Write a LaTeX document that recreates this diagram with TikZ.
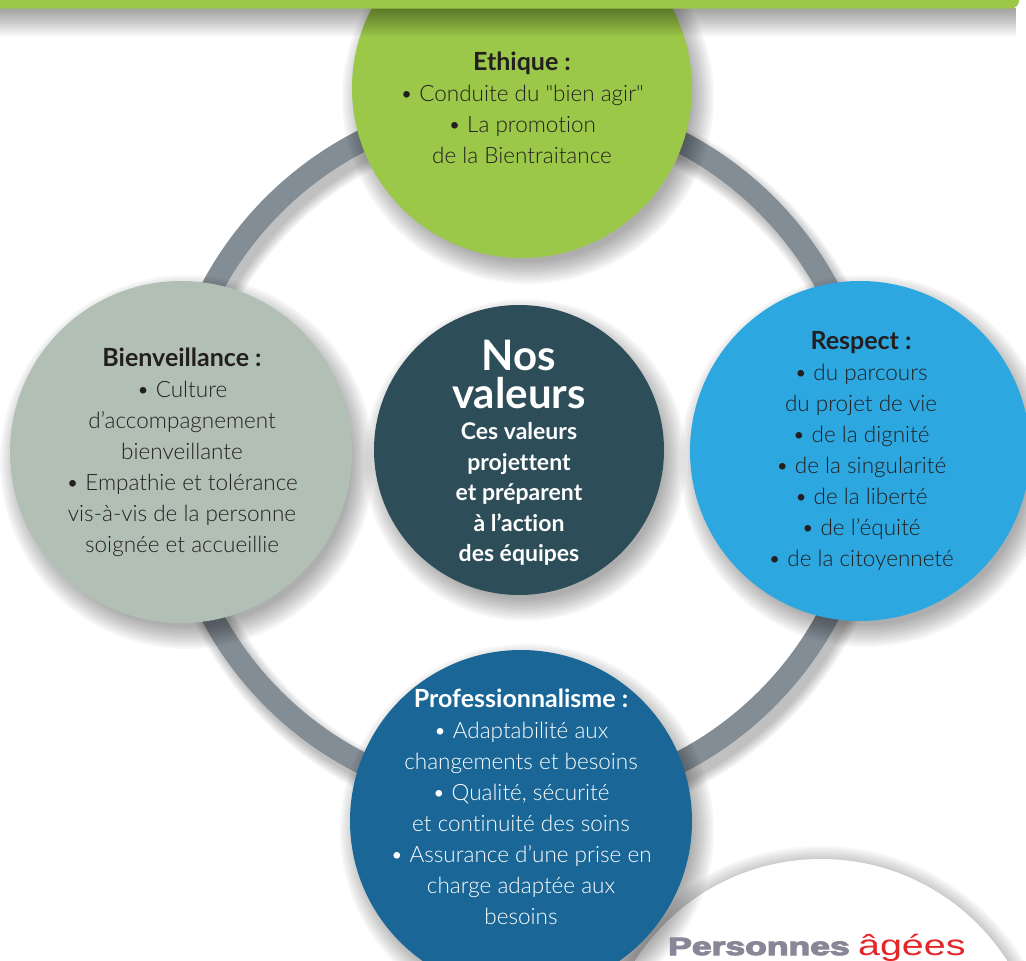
\documentclass[tikz,border=0pt]{standalone}
\usepackage{graphicx}
\usepackage{fontspec}
\setmainfont{Lato Light}[BoldFont=Lato Bold, Ligatures={TeXOff,CommonOff}]
\newfontfamily\persfont{Liberation Sans Bold}[FakeBold=4]
\newfontfamily\agfont{Liberation Sans}
\definecolor{barGreen}{RGB}{155,200,72}
\definecolor{bienGray}{RGB}{177,191,181}
\definecolor{respBlue}{RGB}{45,167,224}
\definecolor{profBlue}{RGB}{26,103,151}
\definecolor{coreTeal}{RGB}{45,77,89}
\definecolor{ringGray}{RGB}{131,141,150}
\definecolor{txtDark}{RGB}{35,31,32}
\definecolor{persGray}{RGB}{135,135,152}
\definecolor{agRed}{RGB}{229,38,40}
\newcommand\softshadow[5]{%
  \foreach \k in {0,...,11}{%
    \fill[black, opacity=0.03] (#1+#4,#2+#5) circle[radius={(#3+2*\k-6)*1pt}];}}
\newcommand\hd[1]{{\bfseries\fontsize{25}{31}\selectfont #1}}
\begin{document}
\begin{tikzpicture}[x=1pt,y=-1pt,
  disc/.style={circle, inner sep=0pt, minimum size=#1},
  body/.style={align=center, text=txtDark, font=\fontsize{22.5}{31}\selectfont},
  whitebody/.style={align=center, text=white, font=\bfseries\fontsize{23}{30.5}\selectfont}]
\useasboundingbox (0,0) rectangle (1026,961);
\begin{scope}
\clip (0,0) rectangle (1026,961);
% ring shadow and ring
\foreach \k in {0,...,8}{\draw[black, opacity=0.03, line width={(20+2.5*\k)*1pt}] (526,461) circle[radius=349pt];}
\draw[ringGray, line width=22pt] (520,452) circle[radius=349pt];
% bottom-right light disc
\softshadow{821}{1080}{221}{0}{3}
\node[disc=442pt, fill=white] (pa) at (821,1080) {};
% circles
\softshadow{181}{452}{171}{6}{10}
\node[disc=342pt, fill=bienGray] (bien) at (181,452) {};
\softshadow{860}{451}{170}{6}{10}
\node[disc=340pt, fill=respBlue] (resp) at (860,451) {};
\softshadow{522}{88}{170}{6}{10}
\node[disc=340pt, fill=barGreen] (eth) at (522,88) {};
\softshadow{521}{821}{171}{6}{10}
\node[disc=342pt, fill=profBlue] (prof) at (521,821) {};
\softshadow{519}{450}{145}{6}{10}
\node[disc=290pt, fill=coreTeal] (core) at (519,450) {};
% top bar shadow and bar
\foreach \k in {1,...,14}{\fill[black, opacity=0.03] (0,8) rectangle (1016,{8+2*\k});}
\fill[barGreen, rounded corners=8pt] (-20,-20) rectangle (1019,8.5);
\end{scope}
% texts
\node[body] (ethT) at (522,108) {\hd{Ethique :}\\• Conduite du "bien agir"\\• La promotion\\de la Bientraitance};
\node[body] (bienT) at (182,452) {\hd{Bienveillance :}\\• Culture\\d’accompagnement\\bienveillante\\• Empathie et tolérance\\vis-à-vis de la personne\\soignée et accueillie};
\node[body] (respT) at (861,450.5) {\hd{Respect :}\\• du parcours\\du projet de vie\\• de la dignité\\• de la singularité\\• de la liberté\\• de l’équité\\• de la citoyenneté};
\node[body, text=white] (profT) at (521,806.5) {\hd{Professionnalisme :}\\• Adaptabilité aux\\changements et besoins\\• Qualité, sécurité\\et continuité des soins\\• Assurance d’une prise en\\charge adaptée aux\\besoins};
\node[align=center, text=white, font=\bfseries\fontsize{42}{38}\selectfont] (coreT) at (519,374) {Nos\\valeurs};
\node[whitebody] (coreS) at (519,494) {Ces valeurs\\projettent\\et préparent\\à l’action\\des équipes};
\node[anchor=base west, inner sep=0pt, text=persGray, font=\persfont\fontsize{25}{25}\selectfont] (pers) at (668,955) {\scalebox{1.42}[1]{Personnes}};
\node[anchor=base west, inner sep=0pt, text=agRed, font=\agfont\fontsize{29}{29}\selectfont] (ag) at ([xshift=8pt]pers.base east) {\scalebox{1.36}[1]{âgées}};
\end{tikzpicture}
\end{document}
